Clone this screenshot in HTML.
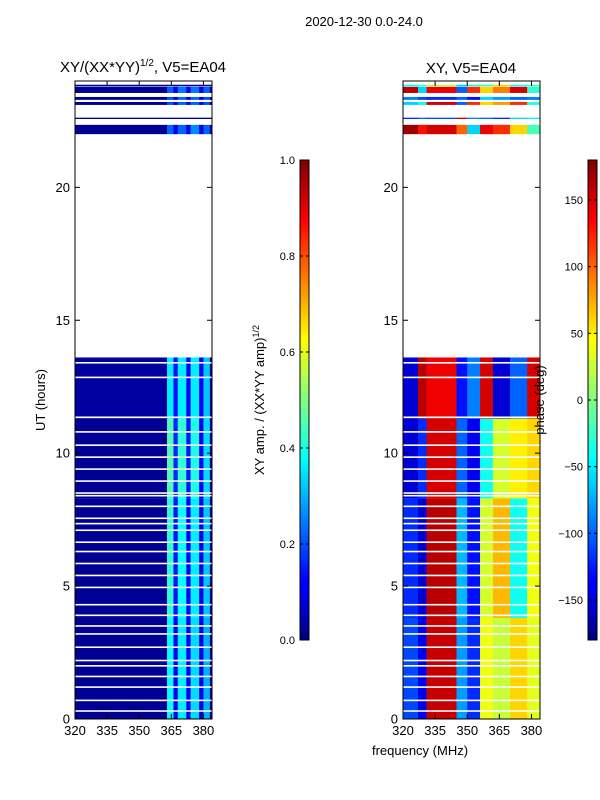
<!DOCTYPE html>
<html><head><meta charset="utf-8"><style>
body{margin:0;background:#fff;}
svg{display:block;font-family:"Liberation Sans",sans-serif;}
</style></head><body>
<svg id="fig" width="600" height="800" xmlns="http://www.w3.org/2000/svg">
<defs>
<linearGradient id="jet" x1="0" y1="1" x2="0" y2="0">
<stop offset="0" stop-color="#00007f"/><stop offset="0.11" stop-color="#0000ff"/><stop offset="0.125" stop-color="#0000ff"/>
<stop offset="0.375" stop-color="#00ffff"/><stop offset="0.5" stop-color="#7fff7f"/><stop offset="0.625" stop-color="#ffff00"/>
<stop offset="0.875" stop-color="#ff0000"/><stop offset="1" stop-color="#7f0000"/>
</linearGradient>
</defs>
<text x="364" y="26" font-size="13" text-anchor="middle">2020-12-30 0.0-24.0</text>
<text x="143" y="72" font-size="15" text-anchor="middle">XY/(XX*YY)<tspan font-size="10" dy="-6">1/2</tspan><tspan dy="6">, V5=EA04</tspan></text>
<text x="471" y="73" font-size="15" text-anchor="middle">XY, V5=EA04</text>
<text x="45" y="400" font-size="13" text-anchor="middle" transform="rotate(-90 45 400)">UT (hours)</text>
<text x="420" y="755" font-size="13" text-anchor="middle">frequency (MHz)</text>
<text x="264" y="400" font-size="13" text-anchor="middle" transform="rotate(-90 264 400)">XY amp. / (XX*YY amp)<tspan font-size="9" dy="-5">1/2</tspan></text>
<g id="left"></g>
<g id="right"></g>
<text x="544" y="400" font-size="13" text-anchor="middle" transform="rotate(-90 544 400)">phase (deg)</text>
</svg>
<script>
// ---- data ----
const timeBlocks = [[0,3.8],[3.8,8.3],[8.3,11.3],[11.3,13.6],[22.0,22.35],[22.57,22.62],[23.1,23.21],[23.29,23.40],[23.55,23.78],[23.8,23.86]];
const ampFreqEdges = [320,363,366,368,372,374,378,380,383,384];
const ampValues = [
 [0.02,0.38,0.12,0.36,0.12,0.34,0.10,0.30,0.03],
 [0.02,0.42,0.14,0.38,0.12,0.36,0.10,0.32,0.03],
 [0.02,0.45,0.16,0.42,0.14,0.40,0.12,0.34,0.03],
 [0.03,0.36,0.14,0.36,0.12,0.36,0.12,0.32,0.03],
 [0.02,0.22,0.12,0.22,0.10,0.26,0.10,0.22,0.03],
 [0.02,0.02,0.02,0.02,0.02,0.02,0.02,0.02,0.02],
 [0.02,0.20,0.10,0.22,0.10,0.22,0.10,0.20,0.03],
 [0.02,0.20,0.10,0.22,0.10,0.22,0.10,0.20,0.03],
 [0.02,0.22,0.10,0.24,0.10,0.24,0.10,0.22,0.03],
 [0.02,0.02,0.02,0.02,0.02,0.02,0.02,0.02,0.02]
];
const phaseFreqEdges = [320,327,331,345,350,356,362,370,378,384];
const phaseValues = [
 [-110,-140,155,-80,-120,40,25,60,35],
 [-120,-150,160,-70,-130,30,70,-40,40],
 [-150,-120,150,-100,-140,-40,30,50,60],
 [-150,160,140,-130,-90,150,-150,-100,150],
 [170,130,150,100,-60,140,120,60,-20],
 [-120,-100,-110,150,-90,-100,-120,-60,-50],
 [-60,-40,150,-100,120,60,80,120,-30],
 [-90,-110,-120,-100,-130,-60,-80,-100,-90],
 [160,-60,140,-100,120,60,90,150,-30],
 [-40,-20,20,-60,-40,-30,60,-40,-20]
];
const gapHours = [0.3,0.7,1.2,1.6,2.0,2.2,2.7,3.2,3.5,3.9,4.3,4.95,5.4,5.85,6.3,6.65,7.1,7.35,7.55,8.0,8.4,8.5,8.95,9.4,9.85,10.3,10.8,11.35,12.85,13.4];
const yTicks = [0,5,10,15,20];
const xTicks = [320,335,350,365,380];
const ampTicks = [0.0,0.2,0.4,0.6,0.8,1.0];
const phaseTicks = [-150,-100,-50,0,50,100,150];

const NS='http://www.w3.org/2000/svg';
function mk(tag,attrs,parent){const e=document.createElementNS(NS,tag);for(const k in attrs)e.setAttribute(k,attrs[k]);parent.appendChild(e);return e;}
function jet(v){v=Math.max(0,Math.min(1,v));const c=x=>Math.round(255*Math.max(0,Math.min(1,1.5-Math.abs(x))));return `rgb(${c(4*v-3)},${c(4*v-2)},${c(4*v-1)})`;}
const Y0=719,Y1=81;
const yS=h=>Y0-(h/24)*(Y0-Y1);

function panel(g,x0,x1,edges,vals,norm){
  const xS=f=>x0+(f-320)/(384-320)*(x1-x0);
  timeBlocks.forEach((tb,i)=>{
    for(let j=0;j<edges.length-1;j++){
      const r=mk('rect',{x:xS(edges[j]),y:yS(tb[1]),width:xS(edges[j+1])-xS(edges[j])+0.3,height:yS(tb[0])-yS(tb[1]),fill:jet(norm(vals[i][j]))},g);
      
      
    }
  });
  gapHours.forEach(h=>{
    const r=mk('rect',{x:x0,y:yS(h)-0.8,width:x1-x0,height:1.6,fill:'#fff'},g);
    
    
  });
  const fr=mk('rect',{x:x0,y:Y1,width:x1-x0,height:Y0-Y1,fill:'none',stroke:'#000','stroke-width':1},g);
  
  
  yTicks.forEach(t=>{
    const y=yS(t);
    mk('line',{x1:x0,x2:x0+5,y1:y,y2:y,stroke:'#000'},g);
    mk('line',{x1:x1,x2:x1-5,y1:y,y2:y,stroke:'#000'},g);
    const tx=mk('text',{x:x0-5,y:y+4.5,'font-size':13,'text-anchor':'end'},g);tx.textContent=t;
    
    
  });
  xTicks.forEach(t=>{
    const x=xS(t);
    mk('line',{x1:x,x2:x,y1:Y0,y2:Y0-5,stroke:'#000'},g);
    mk('line',{x1:x,x2:x,y1:Y1,y2:Y1+5,stroke:'#000'},g);
    const tx=mk('text',{x:x,y:Y0+16,'font-size':13,'text-anchor':'middle'},g);tx.textContent=t;
    
    
  });
}
panel(document.getElementById('left'),75,212,ampFreqEdges,ampValues,v=>v);
panel(document.getElementById('right'),403,540,phaseFreqEdges,phaseValues,v=>(v+180)/360);

function colorbar(x,ticks,lo,hi,fmt,name){
  const svg=document.getElementById('fig');
  const g=mk('g',{},svg);
  
  
  mk('rect',{x:x,y:160,width:9,height:480,fill:'url(#jet)',stroke:'#000','stroke-width':1},g);
  ticks.forEach(t=>{
    const y=640-(t-lo)/(hi-lo)*480;
    mk('line',{x1:x,x2:x+3,y1:y,y2:y,stroke:'#000'},g);
    mk('line',{x1:x+9,x2:x+6,y1:y,y2:y,stroke:'#000'},g);
    const tx=mk('text',{x:x-5,y:y+4,'font-size':11,'text-anchor':'end'},g);tx.textContent=fmt(t);
    
    
  });
}
colorbar(300,ampTicks,0,1,t=>t.toFixed(1),'amplitude-colorbar');
colorbar(588,phaseTicks,-180,180,t=>t<0?'\u2212'+(-t):String(t),'phase-colorbar');
</script>
</body></html>
